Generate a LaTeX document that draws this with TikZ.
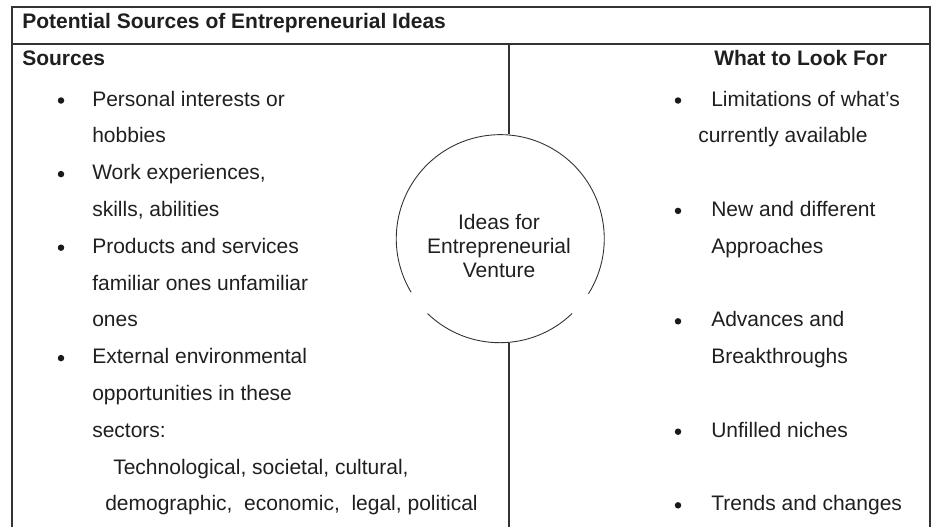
\documentclass[tikz,border=0pt]{standalone}
\usepackage{fontspec}
\setmainfont{Liberation Sans}

\begin{document}
\begin{tikzpicture}[
            x = 1pt, y = 1pt, % one unit per pixel
            line join = miter,
            semithick % line style
        ]

        \tikzstyle{every node}=[
            inner sep = 0pt,
            text = black!88,
            font = \fontsize{21}{24}\selectfont
        ]
        \tikzstyle{line}=[draw = black!80, line width = 1.3pt]
        \tikzstyle{item}=[anchor = base west]
        \tikzstyle{head}=[anchor = base west, font = \fontsize{21}{24}\selectfont\bfseries]
        \tikzstyle{dot}=[circle, fill = black!90, minimum size = 6.5pt]

        \useasboundingbox (0,0) rectangle (933,-527);

        % frame of the table
        \coordinate (BL) at (12,-527);
        \coordinate (TL) at (12,-7);
        \coordinate (TR) at (930,-7);
        \coordinate (BR) at (930,-527);
        \coordinate (SL) at (12,-44);
        \coordinate (SR) at (930,-44);
        \draw[line] (BL) -- (TL) -- (TR) -- (BR);
        \draw[line] (SL) -- (SR);

        % headings
        \node[head] (title) at (22,-29) {Potential Sources of Entrepreneurial Ideas};
        \node[head] (sources) at (22,-66) {Sources};
        \node[head] (lookfor) at (714,-66) {What to Look For};

        % circle in the middle
        \node[circle, minimum size = 208pt] (idea) at (500,-238.5) {};
        \node[align = center] (ideatext) at (499,-246) {Ideas for\\Entrepreneurial\\Venture};
        \draw[draw = black!80, line width = 0.9pt] (idea.-32) arc[start angle = -32, end angle = 211, radius = 104pt];
        \draw[draw = black!80, line width = 0.9pt] (idea.226) arc[start angle = 226, end angle = 314, radius = 104pt];

        % divider above and below the circle
        \coordinate (DT) at (509,-44);
        \coordinate (DB) at (509,-527);
        \draw[line] (DT) -- (DT |- idea.north);
        \draw[line] (DB) -- (DB |- idea.south);

        % sources
        \node[dot] (s1) at (61,-100.5) {};
        \node[item] (s1a) at (92,-106) {Personal interests or};
        \node[item] (s1b) at (92,-142.8) {hobbies};
        \node[dot] (s2) at (61,-174.1) {};
        \node[item] (s2a) at (92,-179.6) {Work experiences,};
        \node[item] (s2b) at (92,-216.4) {skills, abilities};
        \node[dot] (s3) at (61,-247.7) {};
        \node[item] (s3a) at (92,-253.2) {Products and services};
        \node[item] (s3b) at (92,-290) {familiar ones unfamiliar};
        \node[item] (s3c) at (92,-326.8) {ones};
        \node[dot] (s4) at (61,-358.1) {};
        \node[item] (s4a) at (92,-363.6) {External environmental};
        \node[item] (s4b) at (92,-400.4) {opportunities in these};
        \node[item] (s4c) at (92,-437.2) {sectors:};
        \node[item] (s4d) at (113,-474) {Technological, societal, cultural,};
        \node[item] (s4e) at (105,-510.8) {demographic,\ \ economic,\ \ legal, political};

        % what to look for
        \node[dot] (w1) at (678,-100.5) {};
        \node[item] (w1a) at (711,-106) {Limitations of what’s};
        \node[item] (w1b) at (698,-142.8) {currently available};
        \node[dot] (w2) at (678,-210.9) {};
        \node[item] (w2a) at (711,-216.4) {New and different};
        \node[item] (w2b) at (711,-253.2) {Approaches};
        \node[dot] (w3) at (678,-321.3) {};
        \node[item] (w3a) at (711,-326.8) {Advances and};
        \node[item] (w3b) at (711,-363.6) {Breakthroughs};
        \node[dot] (w4) at (678,-431.7) {};
        \node[item] (w4a) at (711,-437.2) {Unfilled niches};
        \node[dot] (w5) at (678,-505.3) {};
        \node[item] (w5a) at (711,-510.8) {Trends and changes};

    \end{tikzpicture}
\end{document}
